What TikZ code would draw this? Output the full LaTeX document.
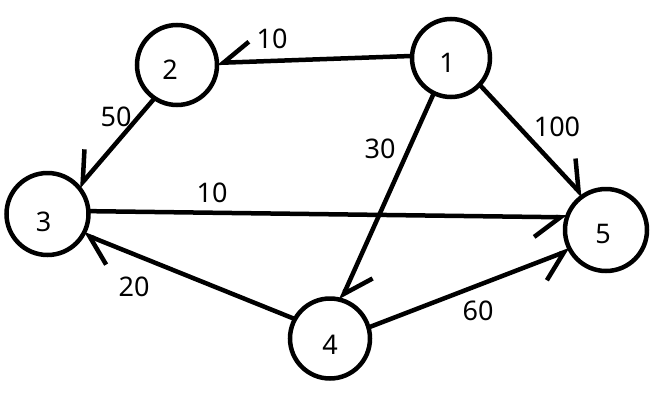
\documentclass[tikz,border=0pt]{standalone}
\usepackage{fontspec}
\setmainfont{Noto Sans}
\usetikzlibrary{arrows.meta}
\begin{document}
\begin{tikzpicture}[x=1pt,y=-1pt,
  vertex/.style={circle,draw,line width=4.5pt,inner sep=0pt,outer sep=0pt},
  numlabel/.style={inner sep=0pt,font=\fontsize{27}{27}\selectfont},
  wlabel/.style={inner sep=0pt,font=\fontsize{27}{27}\selectfont},
  edgeline/.style={line width=4.5pt},
  barbR/.style={edgeline,-{Straight Barb[right,length=26pt,width=40pt]}},
  barbL/.style={edgeline,-{Straight Barb[left,length=26pt,width=40pt]}}]
\useasboundingbox (0,0) rectangle (657,402);
\node[vertex,minimum size=78pt,label={[numlabel,xshift=-4pt,yshift=-5pt]center:1}] (n1) at (451,58) {};
\node[vertex,minimum size=80pt,label={[numlabel,xshift=-7pt,yshift=-5pt]center:2}] (n2) at (177,65) {};
\node[vertex,minimum size=82pt,label={[numlabel,xshift=-4pt,yshift=-8pt]center:3}] (n3) at (47.5,214) {};
\node[vertex,minimum size=80pt,label={[numlabel,xshift=0pt,yshift=-6pt]center:4}] (n4) at (330,338.5) {};
\node[vertex,minimum size=82pt,label={[numlabel,xshift=-3pt,yshift=-4pt]center:5}] (n5) at (606,230) {};
\draw[barbR] (n1.177) -- (n2.3);
\draw[barbR] (n2.236) -- (n3.41.5);
\draw[barbL] (n1.244) -- (n4.74);
\draw[barbL] (n1.-43) -- (n5.124);
\draw[barbR] (n3.4) -- (n5.162);
\draw[barbR] (n4.16) -- (n5.209);
\draw[barbL] (n4.151) -- (n3.-29);
\node[wlabel] (w12) at (272,39) {10};
\node[wlabel] (w23) at (116,117) {50};
\node[wlabel] (w14) at (380,149) {30};
\node[wlabel] (w15) at (557,127) {100};
\node[wlabel] (w35) at (212,193) {10};
\node[wlabel] (w43) at (134,287) {20};
\node[wlabel] (w45) at (478,311) {60};
\end{tikzpicture}
\end{document}
